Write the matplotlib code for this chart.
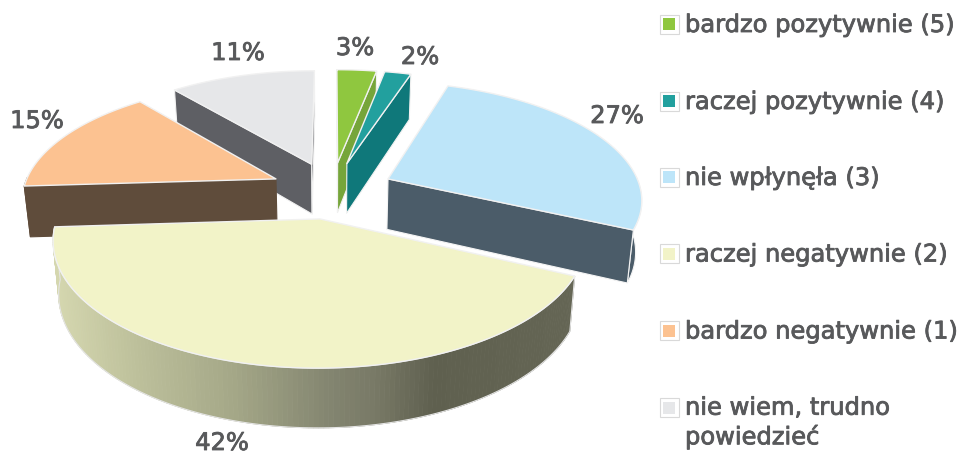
import numpy as np
import matplotlib
matplotlib.use("Agg")
import matplotlib.pyplot as plt
from matplotlib.patches import Polygon, Rectangle
import matplotlib.patheffects as pe
from matplotlib.colors import to_rgb

categories = ["bardzo pozytywnie (5)", "raczej pozytywnie (4)", "nie wpłynęła (3)",
              "raczej negatywnie (2)", "bardzo negatywnie (1)", "nie wiem, trudno\npowiedzieć"]
values = [3, 2, 27, 42, 15, 11]

top_colors = ["#8fc73f", "#22a09e", "#bde5f9", "#f2f3c8", "#fcc291", "#e6e7e9"]
wall_colors = ["#76a53a", "#0f787a", "#4b5c69", None, "#5f4c3b", "#5e5f64"]
label_xy = [(355, 48), (420, 57), (617, 116), (222, 443), (37, 121), (238, 53)]
legend_y = [24, 101, 177, 253.5, 330.5, 407.5]
draw_order = [5, 0, 1, 2, 4, 3]

CX, CY, R, S, K, EXPL, DEPTH, BOTTOM_SCALE = 332, 190, 253, 115.6, 0.157, 0.245, 51, 0.98
TEXT = "#58595b"
EDGE = "#f1f1f1"
wall_edges = [EDGE, EDGE, "#f4f4f4", None, "#5f4c3b", EDGE]
grad_x = [50, 130, 230, 330, 375, 435, 580]
grad_c = ["#d6d8b0", "#bec19c", "#a5a888", "#838570", "#787966", "#5f604f", "#656655"]
grad_rgb = np.array([to_rgb(c) for c in grad_c])

plt.rcParams["font.family"] = ["DejaVu Sans"]
fig = plt.figure(figsize=(9.64, 4.55), dpi=100)
ax = fig.add_axes([0, 0, 1, 1])
ax.set_xlim(0, 964)
ax.set_ylim(455, 0)
ax.axis("off")


def project(theta, radius, off, bottom=False):
    u = radius * np.sin(theta) + off[0]
    v = radius * np.cos(theta) + off[1]
    w = 1 + K * v
    x = R * u / w
    y = -S * v / w
    if bottom:
        x *= BOTTOM_SCALE
        y = y * BOTTOM_SCALE + DEPTH / w
    return np.column_stack([CX + x, CY + y])


def area(p):
    x, y = p[:, 0], p[:, 1]
    return 0.5 * np.sum(x * np.roll(y, -1) - np.roll(x, -1) * y)


fracs = np.array(values, float) / sum(values)
edges = np.concatenate([[0], np.cumsum(fracs)]) * 2 * np.pi

for i in draw_order:
    a0, a1 = edges[i], edges[i + 1]
    mid = (a0 + a1) / 2
    off = (EXPL * np.sin(mid), EXPL * np.cos(mid))
    th = np.linspace(a0, a1, 160)
    top = project(th, 1.0, off)
    bot = project(th, 1.0, off, True)
    apex_t = project(np.array([mid]), 0.0, off)
    apex_b = project(np.array([mid]), 0.0, off, True)

    start = np.vstack([apex_t, top[0], bot[0], apex_b])
    end = np.vstack([apex_t, top[-1], bot[-1], apex_b])
    wc = wall_colors[i]
    ec = wall_edges[i]

    front = np.cos(th) < 0.02
    if front.sum() > 1:
        idx = np.where(front)[0]
        if wc is None:
            for a, b in zip(idx[:-1], idx[1:]):
                xm = (top[a, 0] + top[b, 0]) / 2
                col = [np.interp(xm, grad_x, grad_rgb[:, c]) for c in range(3)]
                ax.add_patch(Polygon([top[a], top[b], bot[b], bot[a]], fc=col, ec=col, lw=0.6))
            outline = np.vstack([top[idx], bot[idx][::-1]])
            ax.add_patch(Polygon(outline, fc="none", ec="#e4e4e4", lw=0.8))
        else:
            ax.add_patch(Polygon(np.vstack([top[idx], bot[idx][::-1]]), fc=wc, ec=ec, lw=0.8))
    if wc is not None:
        if area(start) < 0:
            ax.add_patch(Polygon(start, fc=wc, ec=ec, lw=0.8, joinstyle="round"))
        if area(end) > 0:
            ax.add_patch(Polygon(end, fc=wc, ec=ec, lw=0.8, joinstyle="round"))

    ax.add_patch(Polygon(np.vstack([apex_t, top]), fc=top_colors[i], ec=EDGE, lw=1.0, joinstyle="round"))

stroke = [pe.withStroke(linewidth=0.6, foreground=TEXT)]
FS = 17.4
for v, (x, y) in zip(values, label_xy):
    ax.text(x, y, f"{v}%", ha="center", va="center", fontsize=FS, color=TEXT, path_effects=stroke)

for name, col, y in zip(categories, top_colors, legend_y):
    ax.add_patch(Rectangle((659.5, y - 9.5), 19, 19, fc="white", ec="#d9d9d9", lw=0.8))
    ax.add_patch(Rectangle((663, y - 6), 12, 12, fc=col, ec="none"))
    ty = y + 1 if "\n" not in name else y + 15
    ax.text(685, ty, name, ha="left", va="center", fontsize=FS, color=TEXT,
            path_effects=stroke, linespacing=1.2)

fig.savefig("out.png", dpi=100, facecolor="white")
